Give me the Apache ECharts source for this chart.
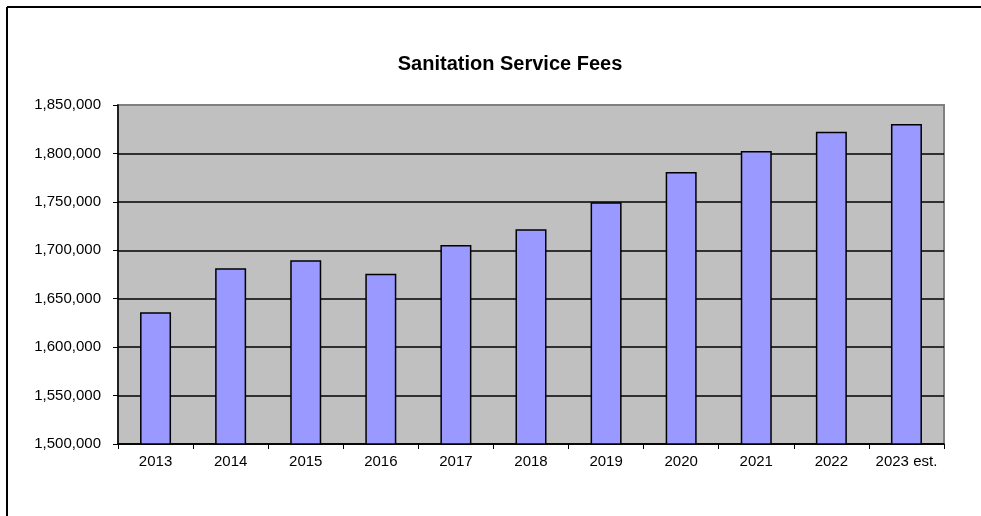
<!DOCTYPE html>
<html>
<head>
<meta charset="utf-8">
<script src="https://cdn.jsdelivr.net/npm/echarts@6/dist/echarts.min.js"></script>
<style>
  html, body { margin: 0; padding: 0; background: #fff; }
  #chart { width: 981px; height: 516px; }
</style>
</head>
<body>
<div id="chart"></div>
<script>
// Sanitation service fee revenue by year
const categories = ['2013', '2014', '2015', '2016', '2017', '2018', '2019', '2020', '2021', '2022', '2023 est.'];
const fees = [1636000, 1681400, 1689700, 1675800, 1705500, 1721700, 1749500, 1780800, 1802500, 1822400, 1830400];
const yMin = 1500000;
const yMax = 1850000;
const yStep = 50000;

const chart = echarts.init(document.getElementById('chart'));
const font = 'Arial, "Liberation Sans", sans-serif';

// gridlines are black; the topmost one sits on the grey plot border
const gridColors = [];
for (let v = yMin; v <= yMax; v += yStep) gridColors.push(v === yMax ? '#808080' : '#000000');

chart.setOption({
  animation: false,
  backgroundColor: '#ffffff',
  title: {
    text: 'Sanitation Service Fees',
    left: 505,
    top: 49,
    textAlign: 'center',
    textStyle: { fontFamily: font, fontSize: 20, fontWeight: 'bold', color: '#000' }
  },
  graphic: [
    // chart frame (top and left edges)
    { type: 'line', shape: { x1: 7, y1: 7, x2: 981, y2: 7 }, style: { stroke: '#000', lineWidth: 2 } },
    { type: 'line', shape: { x1: 7, y1: 7, x2: 7, y2: 516 }, style: { stroke: '#000', lineWidth: 2 } }
  ],
  grid: {
    left: 118, right: 37, top: 105, bottom: 72,
    show: true,
    backgroundColor: '#c0c0c0',
    borderColor: '#808080',
    borderWidth: 2
  },
  xAxis: {
    type: 'category',
    data: categories,
    boundaryGap: true,
    axisLine: { lineStyle: { color: '#000', width: 1.5 } },
    axisTick: { show: true, alignWithLabel: false, length: 5, lineStyle: { color: '#000' } },
    axisLabel: { fontFamily: font, fontSize: 15, color: '#000', margin: 10, interval: 0 },
    splitLine: { show: false }
  },
  yAxis: {
    type: 'value',
    min: yMin,
    max: yMax,
    interval: yStep,
    axisLine: { show: true, lineStyle: { color: '#000', width: 1.5 } },
    axisTick: { show: true, length: 5, lineStyle: { color: '#000' } },
    axisLabel: {
      fontFamily: font, fontSize: 15, color: '#000', margin: 17,
      formatter: v => v.toLocaleString('en-US')
    },
    splitLine: { show: true, lineStyle: { color: gridColors, width: 1.5 } }
  },
  series: [{
    type: 'bar',
    data: fees,
    barWidth: 31,
    itemStyle: { color: '#9999ff', borderColor: '#000', borderWidth: 1.5 }
  }]
});
</script>
</body>
</html>
